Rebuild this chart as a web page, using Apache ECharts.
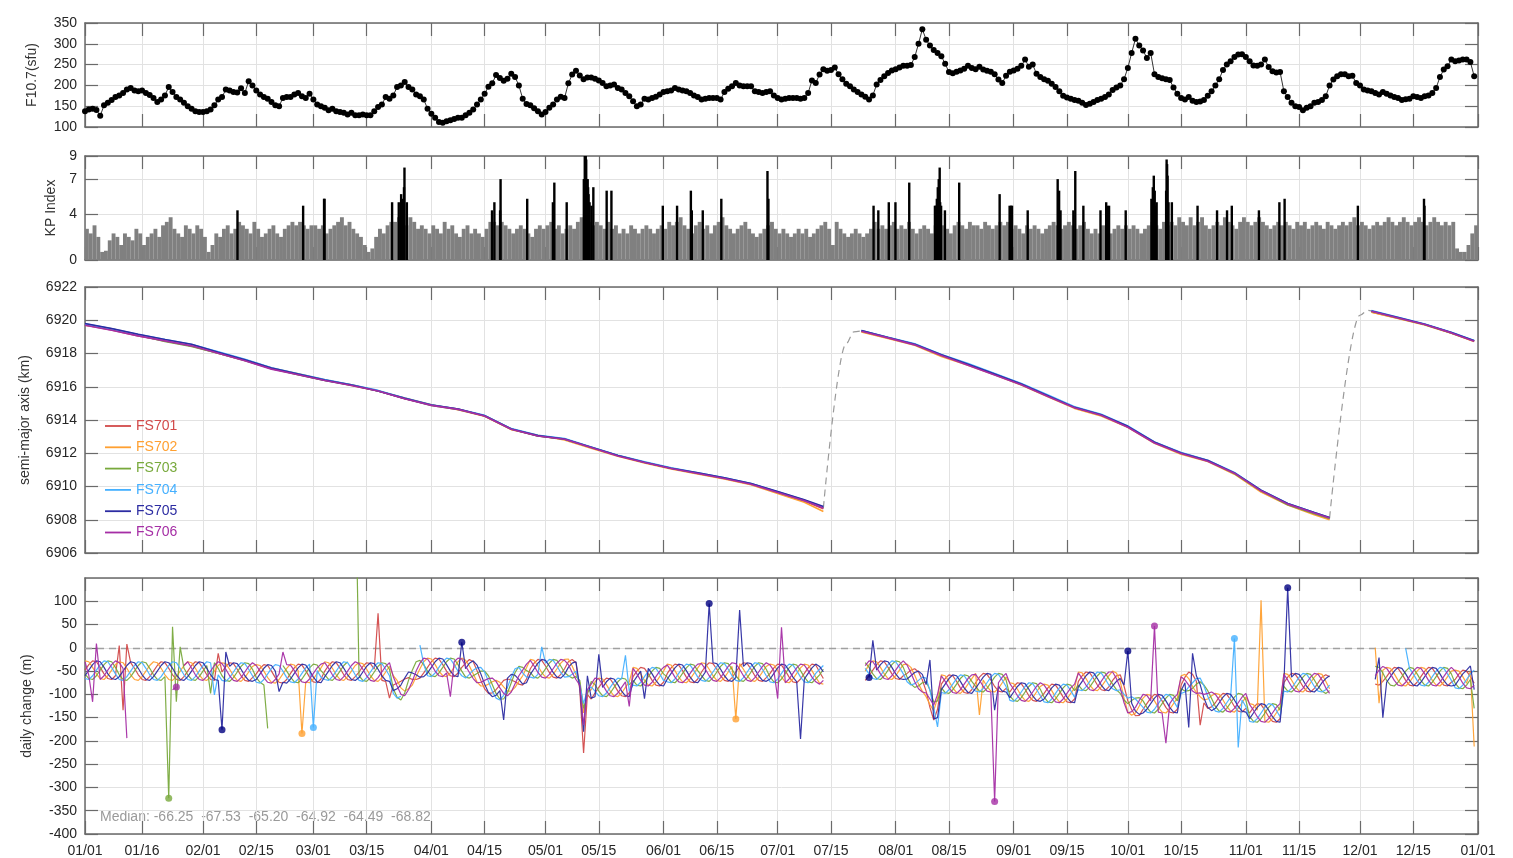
<!DOCTYPE html>
<html>
<head>
<meta charset="utf-8">
<script src="https://cdn.jsdelivr.net/npm/echarts@6/dist/echarts.min.js"></script>
<style>
html,body{margin:0;padding:0;background:#fff}
#chart{width:1513px;height:858px}
</style>
</head>
<body>
<div id="chart"></div>
<script>
const _ = null;

// ---- time axis: semi-monthly ticks over 2024 ----
const tickDates = ['2024-01-01','2024-01-16','2024-02-01','2024-02-15','2024-03-01','2024-03-15',
  '2024-04-01','2024-04-15','2024-05-01','2024-05-15','2024-06-01','2024-06-15','2024-07-01',
  '2024-07-15','2024-08-01','2024-08-15','2024-09-01','2024-09-15','2024-10-01','2024-10-15',
  '2024-11-01','2024-11-15','2024-12-01','2024-12-15','2025-01-01'];

const satNames = ['FS701','FS702','FS703','FS704','FS705','FS706'];
const satColors = ['#d24a4a','#ffa031','#78a93c','#45b0ff','#2c2ca2','#a52ea5'];
const medians = [-66.25, -67.53, -65.20, -64.92, -64.49, -68.82];

// ---- F10.7 solar flux, daily (sfu) ----
const f107 = [
 138,142,144,141,127,152,158,165,172,176,
 182,190,194,188,186,188,182,177,170,160,
 166,176,196,184,172,166,158,150,144,138,
 136,136,138,142,152,166,172,190,188,184,
 183,193,182,210,200,188,178,172,168,160,
 152,150,170,172,172,178,182,174,170,180,
 166,154,150,146,140,144,138,136,134,130,
 134,128,128,130,128,128,138,148,154,172,
 168,176,196,200,208,196,190,178,174,166,
 144,132,122,112,110,114,116,119,122,122,
 128,134,142,154,166,180,197,205,225,218,
 211,216,228,220,200,168,155,152,145,138,
 130,136,146,154,166,173,170,205,226,235,
 224,215,219,219,216,212,206,198,200,202,
 194,190,182,174,162,150,154,168,166,170,
 173,178,184,186,188,194,190,188,186,182,
 176,172,166,168,170,170,170,166,184,192,
 198,206,200,198,198,198,186,184,182,184,
 186,176,170,166,168,170,170,170,168,170,
 182,212,206,226,239,235,237,243,227,215,
 204,198,190,184,178,173,166,176,202,213,
 222,230,236,239,243,247,247,249,268,300,
 335,310,296,285,278,270,252,232,229,233,
 236,240,247,242,239,245,238,235,233,227,
 214,206,223,233,236,240,247,262,245,250,
 228,220,215,211,204,196,186,175,171,168,
 165,163,158,153,156,160,165,168,172,178,
 189,195,200,215,242,278,312,296,284,266,
 278,227,220,217,215,213,195,180,170,166,
 172,163,160,161,165,175,186,200,215,237,
 250,258,268,274,275,268,258,248,247,250,
 262,244,234,231,232,186,172,158,150,148,
 140,146,150,158,160,165,174,200,214,222,
 227,227,222,223,206,200,190,188,186,182,
 178,184,180,176,172,170,165,167,168,174,
 172,170,174,176,182,194,220,238,246,262,
 258,260,262,262,256,222
];

// ---- Kp: daily quiet-time level, by month ----
const kpJan = [2.7,2.3,3.0,2.0,0.7,0.8,1.7,2.3,2.0,1.3,2.3,2.0,1.7,2.7,2.3,1.3,2.0,2.3,2.7,2.0,3.0,3.3,3.7,2.7,2.3,2.0,3.0,2.7,2.3,3.0,2.7];
const kpFeb = [2.0,0.7,1.3,2.3,2.0,2.7,3.0,2.3,2.7,3.3,3.0,2.7,2.3,3.3,2.7,2.0,2.3,2.7,3.0,2.3,2.0,2.7,3.0,3.3,3.0,3.3,3.0,2.7,3.0];
const kpMar = [3.0,2.7,3.0,2.3,2.7,3.0,3.3,3.7,3.0,3.3,2.7,2.3,2.0,1.3,0.7,1.0,2.0,2.7,2.3,3.0,3.3,3.3,3.7,3.3,3.0,3.7,3.3,2.7,3.0,2.7,2.3];
const kpApr = [3.0,2.7,2.3,3.3,2.7,3.0,2.3,2.0,2.7,3.0,2.3,2.7,2.3,2.0,2.7,3.3,3.3,3.0,3.3,3.0,2.7,2.3,2.7,3.0,2.7,2.3,2.0,2.7,3.0,2.7];
const kpMay = [3.0,3.3,2.7,3.0,2.3,2.7,3.0,2.7,3.3,3.7,3.0,3.3,3.0,3.3,3.0,2.7,3.3,2.7,3.0,2.3,2.7,2.3,3.0,2.7,2.3,2.7,3.0,2.7,2.3,2.7,3.0];
const kpJun = [2.7,3.3,3.0,3.3,3.7,3.0,2.7,2.3,3.0,3.3,2.7,3.0,2.3,3.0,3.3,3.7,3.0,2.7,2.3,2.7,3.0,3.3,2.7,2.3,2.0,2.3,2.7,3.0,3.3,2.7];
const kpJul = [2.3,2.7,2.3,2.0,2.3,2.7,2.3,2.7,2.0,2.3,2.7,3.0,3.3,2.7,1.3,3.3,2.7,2.3,2.0,2.3,2.7,2.3,2.0,2.3,2.7,3.3,2.7,3.0,2.7,3.0,3.3];
const kpAug = [2.7,3.0,2.7,3.3,2.7,2.3,2.7,3.0,2.7,2.3,3.0,2.7,3.0,2.7,2.3,3.0,3.3,3.0,2.7,3.3,3.0,3.0,2.7,3.3,3.0,2.7,3.0,3.3,3.0,3.3,2.7];
const kpSep = [3.0,2.7,2.3,3.0,2.7,3.0,2.7,2.3,2.7,3.0,3.3,3.0,2.7,3.0,3.3,3.0,2.7,3.0,3.3,2.7,2.3,2.7,2.3,3.0,2.7,2.3,2.7,3.0,2.7,3.0];
const kpOct = [2.7,3.0,2.7,2.3,2.7,3.0,3.3,3.0,2.7,3.3,3.0,3.3,3.0,3.7,3.3,3.0,3.7,3.0,3.3,3.7,3.0,2.7,3.0,3.3,3.0,3.7,3.3,3.0,2.7,3.3,3.7];
const kpNov = [3.3,3.0,3.3,3.7,3.3,3.0,2.7,3.0,3.3,3.0,3.3,3.0,2.7,3.3,3.0,3.3,2.7,3.0,3.3,3.0,2.7,3.3,3.0,2.7,3.0,3.3,3.0,3.3,3.7,3.0];
const kpDec = [3.3,3.0,2.7,3.0,3.3,3.0,3.3,3.7,3.3,3.0,3.3,3.7,3.3,3.0,3.3,3.7,3.3,3.0,3.3,3.7,3.3,3.0,3.3,3.0,3.3,1.0,0.7,0.7,1.3,2.3,3.0];

// ---- Kp: storm-time 3-hour values ('MM-DD HH', Kp) ----
const kpStorms = [
 ['02-10 00',4.3],['02-27 06',4.7],['03-03 18',5.3],['03-03 21',5.3],['03-21 15',5.0],
 ['03-23 09',5.0],['03-24 00',5.7],['03-24 09',5.3],['03-24 18',6.3],['03-24 21',8.0],['03-25 12',5.0],
 ['04-16 21',4.3],['04-17 12',5.0],['04-19 00',4.3],['04-19 03',7.0],['04-26 03',5.3],
 ['05-02 21',5.0],['05-03 06',6.7],['05-06 12',5.0],
 ['05-11 00',7.0],['05-11 03',7.0],['05-11 06',9.0],['05-11 09',9.0],['05-11 12',9.0],['05-11 15',8.7],
 ['05-11 18',7.0],['05-11 21',7.0],['05-12 00',7.0],['05-12 03',6.3],['05-12 06',5.7],['05-12 12',5.0],
 ['05-13 00',4.7],['05-13 12',6.3],['05-17 00',6.0],['05-18 06',6.0],
 ['05-31 18',4.7],['06-04 12',4.7],['06-08 03',6.0],['06-08 09',4.3],['06-11 06',4.3],['06-16 03',5.3],
 ['06-28 06',7.7],['06-28 12',5.3],['07-26 03',4.7],['07-27 09',4.3],['07-30 03',5.0],['07-31 21',5.0],
 ['08-04 12',6.7],['08-11 06',4.7],['08-11 12',4.7],['08-11 18',5.3],['08-12 00',6.3],['08-12 06',7.0],
 ['08-12 12',8.0],['08-12 15',5.0],['08-12 21',4.7],['08-13 21',4.3],['08-17 15',6.7],['08-28 06',5.7],
 ['08-30 21',4.7],['08-31 06',4.7],['08-31 12',4.7],['09-04 15',4.3],
 ['09-12 12',7.0],['09-12 21',6.0],['09-13 06',4.3],['09-16 15',4.3],['09-17 03',7.7],['09-19 06',4.7],
 ['09-23 18',4.3],['09-25 06',5.0],['09-25 12',4.7],['09-26 00',4.7],['09-30 09',4.3],
 ['10-07 03',5.3],['10-07 12',6.3],['10-07 18',7.3],['10-08 00',6.0],['10-08 06',4.7],['10-08 12',5.0],
 ['10-11 00',6.0],['10-11 03',8.7],['10-11 06',8.3],['10-11 09',7.3],['10-11 15',5.0],['10-12 12',5.0],
 ['10-19 06',4.7],['10-24 09',4.3],['10-27 00',4.3],['10-28 06',4.7],['11-04 09',4.3],['11-09 18',5.0],
 ['11-11 03',5.3],['11-30 09',4.7],['12-17 18',5.3],['12-17 21',4.7]
];

// ---- semi-major axis (km), sampled on these days of 2024 ----
const smaDays = [0,7,14,21,28,35,42,49,56,63,70,77,84,91,98,105,112,119,126,133,
 140,147,154,161,168,175,182,189,194,199,204,211,218,225,232,239,246,253,260,267,
 274,281,288,295,302,309,316,323,327,332,338,345,352,359,365];
const smaFS701 = [6919.72,6919.42,6919.05,6918.78,6918.45,6918.02,6917.58,6917.08,6916.74,6916.40,
 6916.12,6915.76,6915.28,6914.90,6914.66,6914.24,6913.45,6913.04,6912.86,6912.33,
 6911.86,6911.44,6911.10,6910.78,6910.48,6910.14,6909.62,6909.12,6908.66,_,
 6919.32,6918.94,6918.55,6917.88,6917.36,6916.76,6916.16,6915.46,6914.74,6914.30,
 6913.58,6912.66,6912.02,6911.56,6910.80,6909.72,6908.94,6908.38,6908.06,_,
 6920.50,6920.12,6919.74,6919.24,6918.74];
const smaFS702 = [6919.70,6919.48,6919.08,6918.76,6918.50,6918.04,6917.62,6917.12,6916.78,6916.42,
 6916.08,6915.74,6915.32,6914.92,6914.62,6914.22,6913.42,6913.08,6912.80,6912.30,
 6911.82,6911.42,6911.06,6910.76,6910.46,6910.10,6909.58,6909.05,6908.50,_,
 6919.30,6918.90,6918.50,6917.82,6917.30,6916.72,6916.10,6915.40,6914.70,6914.24,
 6913.56,6912.60,6911.94,6911.50,6910.74,6909.66,6908.88,6908.30,6908.00,_,
 6920.48,6920.10,6919.72,6919.22,6918.72];
const smaFS703 = [6919.74,6919.44,6919.10,6918.72,6918.42,6918.02,6917.58,6917.10,6916.72,6916.38,
 6916.10,6915.74,6915.30,6914.88,6914.64,6914.26,6913.46,6913.04,6912.84,6912.36,
 6911.86,6911.46,6911.10,6910.80,6910.50,6910.16,6909.66,6909.16,6908.74,_,
 6919.36,6918.96,6918.54,6917.90,6917.34,6916.74,6916.14,6915.44,6914.76,6914.30,
 6913.60,6912.64,6912.00,6911.54,6910.78,6909.74,6908.90,6908.36,6908.08,_,
 6920.54,6920.14,6919.74,6919.24,6918.76];
const smaFS704 = [6919.78,6919.48,6919.14,6918.84,6918.54,6918.10,6917.66,6917.14,6916.78,6916.44,
 6916.12,6915.78,6915.32,6914.92,6914.66,6914.28,6913.48,6913.08,6912.88,6912.38,
 6911.88,6911.48,6911.12,6910.82,6910.52,6910.18,6909.68,6909.18,6908.76,_,
 6919.38,6918.98,6918.58,6917.94,6917.40,6916.80,6916.20,6915.50,6914.80,6914.34,
 6913.64,6912.68,6912.04,6911.58,6910.84,6909.78,6908.98,6908.44,6908.12,_,
 6920.58,6920.18,6919.78,6919.28,6918.78];
const smaFS705 = [6919.80,6919.50,6919.16,6918.84,6918.56,6918.08,6917.62,6917.12,6916.76,6916.40,
 6916.10,6915.74,6915.30,6914.90,6914.66,6914.26,6913.46,6913.06,6912.86,6912.36,
 6911.86,6911.46,6911.10,6910.82,6910.52,6910.18,6909.70,6909.20,6908.80,_,
 6919.38,6918.96,6918.56,6917.92,6917.36,6916.76,6916.16,6915.46,6914.76,6914.32,
 6913.62,6912.66,6912.02,6911.56,6910.82,6909.78,6908.98,6908.44,6908.14,_,
 6920.56,6920.16,6919.76,6919.26,6918.76];
const smaFS706 = [6919.70,6919.40,6919.06,6918.76,6918.46,6918.02,6917.56,6917.06,6916.72,6916.38,
 6916.08,6915.74,6915.28,6914.88,6914.64,6914.24,6913.44,6913.04,6912.84,6912.34,
 6911.84,6911.44,6911.08,6910.78,6910.48,6910.14,6909.64,6909.14,6908.70,_,
 6919.34,6918.94,6918.52,6917.88,6917.30,6916.70,6916.12,6915.42,6914.74,6914.28,
 6913.56,6912.62,6911.98,6911.52,6910.80,6909.74,6908.94,6908.40,6908.10,_,
 6920.54,6920.14,6919.74,6919.24,6918.74];

// orbit-raising manoeuvres (day, km)
const raise1 = [[194,6908.70],[200,6918.60],[202,6919.30],[204,6919.36]];
const raise2 = [[327,6908.10],[335,6920.30],[337,6920.60],[338,6920.56]];

// ---- daily change of semi-major axis (m), one value per day from 01/01 ----
const chgFS701 = [
 -48,-36,-28,-30,-42,-56,-66,-68,-60,
 5,-134,8,-32,-44,-58,-68,-70,-62,
 -50,-38,-30,-32,-44,-58,-68,-70,-62,
 -50,-38,-30,-32,-44,-58,-68,-70,-12,
 -52,-40,-32,-34,-46,-60,-70,-72,-64,
 -56,-44,-36,-38,-50,-64,-74,-76,-68,
 -55,-43,-35,-37,-49,-63,-73,-75,-67,
 -50,-38,-30,-32,-44,-58,-68,-70,-62,
 -52,-40,-32,-34,-46,74,-70,-72,-108,
 -80,-76,-72,-67,-64,-68,-68,-65,-54,
 -42,-30,-22,-24,-36,-50,-60,-62,-54,
 -42,-33,-25,-30,-49,-70,-88,-98,-97,
 -90,-80,-70,-67,-69,-73,-78,-80,-67,
 -45,-33,-25,-27,-39,-53,-63,-65,-57,
 -45,-30,-25,-32,-90,-226,-100,-110,-97,
 -85,-73,-65,-67,-79,-93,-103,-105,-97,
 -62,-50,-42,-44,-56,-70,-80,-82,-74,
 -55,-43,-35,-37,-49,-63,-73,-75,-67,
 -52,-40,-32,-34,-46,-60,-70,-72,-64,
 -52,-40,-32,-34,-46,-60,-70,-72,-64,
 -55,-43,-35,-37,-49,-63,-73,-75,-67,
 -55,-43,-35,-37,-52,-66,_,_,_,
 _,_,_,_,_,_,_,-70,-60,
 -48,-36,-28,-30,-42,-56,-66,-68,-60,
 -55,-48,-45,-52,-69,-93,-128,-155,-132,
 -78,-66,-58,-60,-72,-86,-96,-98,-90,
 -75,-63,-55,-57,-69,-83,-93,-95,-87,
 -95,-83,-75,-77,-89,-103,-113,-115,-107,
 -98,-86,-78,-80,-92,-106,-116,-118,-110,
 -72,-60,-52,-54,-66,-80,-90,-92,-84,
 -70,-60,-58,-82,-114,-133,-146,-145,-132,
 -120,-108,-100,-102,-114,-128,-138,-140,-132,
 -80,-63,-52,-57,-72,-166,-118,-130,-127,
 -118,-106,-98,-100,-112,-126,-136,-138,-130,
 -140,-128,-120,-122,-134,-148,-158,-160,-152,
 -75,-63,-55,-57,-69,-83,-93,-95,-87,
 -75,-63,-58,-62,_,_,_,_,_,
 _,_,_,_,_,_,-78,-80,-72,
 -62,-50,-42,-44,-56,-70,-80,-82,-74,
 -62,-50,-42,-44,-56,-70,-80,-82,-74,
 -68,-56,-48,-50,-62,-76
];
const chgFS702 = [
 -28,-30,-42,-56,-66,-68,-60,-48,-36,
 -30,-32,-44,-58,-68,-70,-62,-50,-38,
 -30,-32,-44,-58,-68,-70,-62,-50,-38,
 -30,-32,-44,-58,-68,-70,-62,-50,-38,
 -32,-34,-46,-60,-70,-72,-64,-52,-40,
 -36,-38,-50,-64,-74,-76,-68,-56,-44,
 -35,-37,-49,-184,-73,-75,-67,-55,-43,
 -30,-32,-44,-58,-68,-70,-62,-50,-38,
 -32,-34,-46,-60,-70,-72,-64,-52,-40,
 -60,-70,-86,-93,-88,-80,-62,-45,-30,
 -22,-24,-36,-50,-60,-62,-54,-42,-30,
 -22,-27,-39,-56,-73,-82,-82,-78,-73,
 -70,-74,-84,-93,-93,-85,-72,-60,-43,
 -25,-27,-39,-53,-63,-65,-57,-45,-33,
 -25,-24,-39,-58,-75,-140,-95,-90,-73,
 -65,-67,-79,-93,-103,-105,-97,-85,-73,
 -42,-44,-56,-70,-80,-82,-74,-62,-50,
 -35,-37,-49,-63,-73,-75,-67,-55,-43,
 -32,-34,-46,-60,-70,-72,-64,-52,-40,
 -153,-34,-46,-60,-70,-72,-64,-52,-40,
 -35,-37,-49,-63,-73,-75,-67,-55,-43,
 -35,-37,-49,-63,-76,-78,_,_,_,
 _,_,_,_,_,_,_,-50,-36,
 -28,-30,-42,-56,-66,-68,-60,-48,-36,
 -35,-42,-59,-78,-93,-105,-122,-135,-108,
 -58,-60,-72,-86,-96,-98,-90,-78,-66,
 -55,-144,-69,-83,-93,-95,-87,-75,-63,
 -75,-77,-89,-103,-113,-115,-107,-95,-83,
 -78,-80,-92,-106,-116,-118,-110,-98,-86,
 -52,-54,-66,-80,-90,-92,-84,-72,-60,
 -50,-54,-72,-108,-138,-145,-140,-125,-108,
 -100,-102,-114,-128,-138,-140,-132,-120,-108,
 -60,-57,-66,-83,-96,-105,-112,-110,-103,
 -98,-100,-112,-126,-136,-138,-130,-118,-106,
 -120,-122,-134,102,-158,-160,-152,-140,-128,
 -55,-57,-69,-83,-93,-95,-87,-75,-63,
 -55,-57,-72,-88,_,_,_,_,_,
 _,_,_,_,_,_,0,-119,-48,
 -42,-44,-56,-70,-80,-82,-74,-62,-50,
 -42,-44,-56,-70,-80,-82,-74,-62,-50,
 -48,-50,-62,-76,-50,-212
];
const chgFS703 = [
 -56,-66,-68,-60,-48,-36,-28,-30,-42,
 -58,-68,-70,-62,-50,-38,-30,-32,-44,
 -58,-68,-70,-62,-323,45,-116,2,-44,
 -58,-68,-70,-62,-50,-38,-98,-32,-44,
 -60,-70,-72,-64,-52,-40,-32,-34,-46,
 -64,-74,-80,-173,_,_,_,-38,-50,
 -63,-73,-75,-67,-55,-43,-35,-37,-49,
 -58,-68,-70,-62,-50,-38,-30,_,400,
 -60,-70,-72,-64,-52,-40,-32,-34,-46,
 -88,-106,-112,-97,-70,-48,-30,-27,-36,
 -50,-60,-62,-54,-42,-30,-22,-24,-36,
 -50,-63,-65,-60,-55,-50,-50,-60,-79,
 -98,-110,-110,-97,-75,-53,-40,-42,-49,
 -53,-63,-65,-57,-45,-33,-25,-27,-39,
 -53,-60,-65,-62,-70,-130,-100,-72,-79,
 -93,-103,-105,-97,-85,-73,-65,-67,-79,
 -70,-80,-82,-74,-62,-50,-42,-44,-56,
 -63,-73,-75,-67,-55,-43,-35,-37,-49,
 -60,-70,-72,-64,-52,-40,-32,-34,-46,
 -60,-70,-72,-64,-52,-40,-32,-34,-46,
 -63,-73,-75,-67,-55,-43,-35,-37,-49,
 -63,-73,-75,-67,-58,-46,_,_,_,
 _,_,_,_,_,_,_,-32,-42,
 -56,-66,-68,-60,-48,-36,-28,-30,-42,
 -63,-78,-85,-82,-75,-73,-90,-117,-114,
 -86,-96,-98,-90,-78,-66,-58,-60,-72,
 -83,-93,-95,-87,-75,-63,-55,-57,-69,
 -103,-113,-115,-107,-95,-83,-75,-77,-89,
 -106,-116,-118,-110,-98,-86,-78,-80,-92,
 -80,-90,-92,-84,-72,-60,-52,-54,-66,
 -78,-90,-98,-112,-120,-113,-108,-107,-114,
 -128,-138,-140,-132,-120,-108,-100,-102,-114,
 -88,-93,-92,-87,-78,-73,-80,-92,-109,
 -126,-136,-138,-130,-118,-106,-98,-100,-112,
 -148,-158,-160,-152,-140,-128,-120,-122,-134,
 -83,-93,-95,-87,-75,-63,-55,-57,-69,
 -83,-93,-98,-92,_,_,_,_,_,
 _,_,_,_,_,_,-40,-42,-54,
 -70,-80,-82,-74,-62,-50,-42,-44,-56,
 -70,-80,-82,-74,-62,-50,-42,-44,-56,
 -76,-86,-88,-80,-68,-130
];
const chgFS704 = [
 -66,-68,-60,-48,-36,-28,-30,-42,-56,
 -68,-70,-62,-50,-38,-30,-32,-44,-58,
 -68,-70,-62,-50,-38,-30,-32,-44,-58,
 -68,-70,-62,-50,-38,-30,-32,-101,-58,
 -70,-72,-64,-52,-40,-32,-34,-46,-60,
 -74,-76,-68,-56,-44,-36,-38,-50,-64,
 -73,-75,-67,-55,-43,-35,-171,-49,-63,
 -68,-70,-62,-50,-38,-30,-32,-44,-58,
 -70,-72,-64,-52,-40,-32,-34,-46,-60,
 -98,-108,-104,_,_,_,_,6,-35,
 -60,-62,-54,-42,-30,-22,-24,-36,-50,
 -60,-65,-57,-48,-43,-42,-52,-72,-93,
 -108,-112,-102,-85,-63,-45,-42,-54,-63,
 -63,-65,-57,2,-33,-25,-27,-39,-53,
 -63,-62,-57,-50,-80,-120,-90,-84,-93,
 -103,-105,-97,-85,-73,-65,-67,-16,-93,
 -80,-82,-74,-62,-50,-42,-44,-56,-70,
 -73,-75,-67,-55,-43,-35,-37,-49,-63,
 -70,-72,-64,-52,-40,-32,-34,-46,-60,
 -70,-72,-64,-52,-40,-32,-34,-46,-60,
 -73,-75,-67,-55,-43,-35,-37,-49,-63,
 -73,-75,-67,-55,-46,-38,_,_,_,
 _,_,_,_,_,_,_,-44,-56,
 -66,-68,-60,-48,-36,-28,-30,-42,-56,
 -73,-80,-77,-70,-63,-65,-92,-129,-170,
 -96,-98,-90,-78,-66,-58,-60,-72,-86,
 -93,-95,-87,-75,-63,-55,-57,-69,-83,
 -113,-115,-107,-95,-83,-75,-77,-89,-103,
 -116,-118,-110,-98,-86,-78,-80,-92,-106,
 -90,-92,-84,-72,-60,-52,-54,-66,-80,
 -88,-92,-90,-100,-108,-105,-110,-119,-128,
 -138,-140,-132,-120,-108,-100,-102,-114,-128,
 -98,-95,-84,-75,-66,-65,-82,-104,-123,
 -136,-138,-130,-118,-106,20,-214,-112,-126,
 -158,-160,-152,-140,-128,-120,-122,-134,-148,
 -93,-95,-87,-75,-63,-55,-57,-69,-83,
 -93,-95,-90,-80,_,_,_,_,_,
 _,_,_,_,_,_,_,_,_,
 _,_,_,_,_,-1,-44,-56,-70,
 -80,-82,-74,-62,-50,-42,-44,-56,-70,
 -86,-88,-80,-68,-56,-48
];
const chgFS705 = [
 -60,-48,-36,-28,-30,-42,-56,-66,-68,
 -62,-50,-38,-30,-32,-44,-58,-68,-70,
 -62,-50,-38,-30,-32,-44,-58,-68,-70,
 -62,-50,-38,-30,-32,-44,-58,-68,-70,
 -176,-9,-40,-32,-34,-46,-60,-70,-72,
 -68,-56,-44,-36,-38,-50,-94,-74,-76,
 -67,-55,-43,-35,-37,-49,-63,-73,-75,
 -62,-50,-38,-30,-32,-44,-58,-68,-70,
 -64,-52,-40,-32,-34,-46,-60,-70,-72,
 -92,-88,-80,-65,-52,-54,-58,-63,-62,
 -54,-42,-30,-22,-24,-36,-50,-60,-62,
 12,-45,-33,-28,-37,-56,-78,-96,-105,
 -102,-92,-155,-65,-57,-59,-68,-78,-75,
 -57,-45,-33,-25,-27,-39,-53,-63,-65,
 -57,-42,-33,-30,-85,-180,-60,-108,-105,
 -14,-85,-73,-65,-67,-79,-93,-103,-105,
 -74,-62,-50,-109,-44,-56,-70,-80,-82,
 -67,-55,-43,-35,-37,-49,-63,-73,-75,
 -64,-52,95,-32,-34,-46,-60,-70,-72,
 -64,81,-40,-32,-34,-46,-60,-70,-72,
 -67,-55,-43,-35,-37,-49,-63,-73,-196,
 -67,-55,-43,-35,-40,-52,_,_,_,
 _,_,_,_,_,_,_,_,-64,
 16,-48,-36,-28,-30,-42,-56,-66,-68,
 -67,-60,-53,-50,-57,-79,-26,-153,-150,
 -90,-78,-66,-58,-60,-72,-86,-96,-98,
 -87,-75,-63,-55,-57,-134,-83,-93,-95,
 -107,-95,-83,-75,-77,-89,-103,-113,-115,
 -110,-98,-86,-78,-80,-92,-106,-116,-118,
 -84,-72,-60,-52,-54,-66,-80,-90,-92,
 -82,-72,-66,-80,-7,-119,-136,-143,-140,
 -132,-120,-108,-100,-102,-114,-128,-138,-140,
 -92,-75,-171,-12,-60,-79,-108,-128,-135,
 -130,-118,-106,-98,-100,-112,-126,-136,-138,
 -152,-140,-128,-120,-122,-134,-148,-158,-160,
 -76,129,-63,-55,-57,-69,-83,-93,-95,
 -87,-75,-66,-60,_,_,_,_,_,
 _,_,_,_,_,_,-68,-21,-150,
 -74,-62,-50,-42,-44,-56,-70,-80,-82,
 -74,-62,-50,-42,-44,-56,-70,-80,-82,
 -80,-68,-56,-48,-39,-90
];
const chgFS706 = [
 -30,-59,-116,9,-68,-60,-48,-36,-28,
 -32,-44,-194,_,_,_,_,_,_,
 _,_,_,_,_,-90,-84,_,-38,
 -30,-44,-58,-68,-70,-62,-50,-38,-30,
 -34,-46,-60,-70,-72,-64,-52,-40,-32,
 -38,-50,-64,-74,-76,-68,-56,-9,-36,
 -37,-49,-63,-73,-75,-67,-55,-43,-35,
 -32,-44,-58,-68,-70,-62,-50,-38,-30,
 -34,-46,-60,-70,-72,-64,-52,-40,-32,
 -62,-82,-100,-103,-90,-72,-50,-33,-22,
 -24,-36,-50,-60,-62,-54,-105,-30,-22,
 -24,-39,-53,-66,-75,-74,-70,-66,-65,
 -72,-86,-98,-103,-95,-77,-60,-48,-35,
 -27,-39,-53,-63,-65,-57,-45,-33,-25,
 -27,-36,-53,-68,-80,-166,-90,-78,-65,
 -67,-79,-93,-103,-105,-97,-85,-73,-126,
 -44,-56,-70,-80,-82,-74,-62,-50,-42,
 -37,-49,-63,-73,-75,-67,-55,-43,-35,
 -34,-46,-60,-70,-72,-64,-52,-40,-32,
 -34,-46,-60,-70,-72,-64,-52,-40,-32,
 -37,-49,-109,44,-75,-67,-55,-43,-35,
 -37,-49,-63,-73,-78,-70,_,_,_,
 _,_,_,_,_,_,_,-38,-28,
 -30,-42,-56,-66,-68,-60,-48,-36,-28,
 -37,-54,-73,-88,-95,-97,-110,-123,-100,
 -60,-72,-86,-96,-98,-90,-78,-66,-58,
 -57,-69,-83,-93,-95,-330,-75,-63,-55,
 -77,-89,-103,-113,-115,-107,-95,-83,-75,
 -80,-92,-106,-116,-118,-110,-98,-86,-78,
 -54,-66,-80,-90,-92,-84,-72,-60,-52,
 -52,-66,-86,-118,-140,-137,-128,-113,-100,
 -102,-114,47,-138,-140,-205,-120,-108,-100,
 -62,-69,-80,-93,-98,-97,-100,-98,-95,
 -100,-112,-126,-136,-138,-130,-118,-106,-98,
 -122,-134,-148,-158,-160,-152,-140,-128,-120,
 -57,-69,-83,-93,-95,-87,-75,-63,-55,
 -57,-69,-86,-98,_,_,_,_,_,
 _,_,_,_,_,_,-60,-48,-40,
 -44,-56,-70,-80,-82,-74,-62,-50,-42,
 -44,-56,-70,-80,-82,-74,-62,-50,-42,
 -50,-62,-76,-86,-88,-80
];
// highlighted daily-change points: [satellite index, day]
const chgMarked = [[2,22],[5,24],[4,36],[1,57],[3,60],[4,99],[4,164],[1,171],
 [4,206],[5,239],[4,274],[5,281],[3,302],[4,316]];

// ---------------------------------------------------------------
const DAY0 = Date.UTC(2024, 0, 1);
const dayOf = s => (Date.parse(s + 'T00:00:00Z') - DAY0) / 86400000;
const tickDays = tickDates.map(dayOf);
const tickLabels = tickDates.map(s => s.slice(5).replace('-', '/'));
const X_MAX = tickDays[tickDays.length - 1];

const kpDaily = [].concat(kpJan, kpFeb, kpMar, kpApr, kpMay, kpJun, kpJul, kpAug, kpSep, kpOct, kpNov, kpDec);
const smaSets = [smaFS701, smaFS702, smaFS703, smaFS704, smaFS705, smaFS706];
const chgSets = [chgFS701, chgFS702, chgFS703, chgFS704, chgFS705, chgFS706];

const FRAME = '#6a6a6a', GRIDC = '#e2e2e2', TXT = '#262626';
const FONT = '"Liberation Sans", Arial, Helvetica, sans-serif';

const grids = [
  {left: 85, top: 23, width: 1393, height: 104},
  {left: 85, top: 156, width: 1393, height: 104},
  {left: 85, top: 287, width: 1393, height: 266},
  {left: 85, top: 578, width: 1393, height: 256}
].map(g => Object.assign({containLabel: false, outerBoundsMode: 'none'}, g));

function xPair(i) {
  const tick = {show: true, inside: true, length: 13, customValues: tickDays,
                lineStyle: {color: FRAME, width: 1.2}};
  const line = {show: true, onZero: false, lineStyle: {color: FRAME, width: 1.5}};
  return [
    {type: 'value', gridIndex: i, min: 0, max: X_MAX, position: 'bottom',
     axisLine: line, axisTick: tick,
     axisLabel: {show: i === 3, customValues: tickDays, color: TXT, fontSize: 14,
                 fontFamily: FONT, margin: 10,
                 formatter: v => { const k = tickDays.indexOf(v); return k < 0 ? '' : tickLabels[k]; }},
     splitLine: {show: true, lineStyle: {color: GRIDC, width: 1}}},
    {type: 'value', gridIndex: i, min: 0, max: X_MAX, position: 'top',
     axisLine: line, axisTick: tick, axisLabel: {show: false}, splitLine: {show: false}}
  ];
}

function yPair(i, o) {
  const tick = {show: true, inside: true, length: 13, lineStyle: {color: FRAME, width: 1.2}};
  const label = {show: true, color: TXT, fontSize: 14, fontFamily: FONT, margin: 8,
                 showMaxLabel: !o.hideMax, formatter: v => String(v)};
  if (o.ticks) { tick.customValues = o.ticks; label.customValues = o.ticks; }
  const line = {show: true, onZero: false, lineStyle: {color: FRAME, width: 1.5}};
  const common = {type: 'value', gridIndex: i, min: o.min, max: o.max};
  if (o.interval) common.interval = o.interval;
  return [
    Object.assign({}, common, {position: 'left', axisLine: line, axisTick: tick, axisLabel: label,
      name: o.name, nameLocation: 'middle', nameGap: o.nameGap,
      nameTextStyle: {color: '#333', fontSize: 14, fontFamily: FONT},
      splitLine: {show: true, lineStyle: {color: GRIDC, width: 1}}}),
    Object.assign({}, common, {position: 'right', axisLine: line, axisTick: tick,
      axisLabel: {show: false}, splitLine: {show: false}})
  ];
}

const series = [];

// F10.7 dots joined by a thin line
series.push({
  type: 'line', xAxisIndex: 0, yAxisIndex: 0,
  data: f107.map((v, d) => [d, v]),
  symbol: 'circle', symbolSize: 6, showSymbol: true,
  itemStyle: {color: '#000'}, lineStyle: {color: '#000', width: 0.8}, z: 3
});

// Kp: quiet-time level in grey, storm intervals in black
series.push({
  type: 'bar', xAxisIndex: 2, yAxisIndex: 2,
  data: kpDaily.map((v, d) => [d + 0.5, v]),
  barWidth: 3.9, itemStyle: {color: '#808080'}
});
series.push({
  type: 'bar', xAxisIndex: 3, yAxisIndex: 2,
  data: kpStorms.map(([t, v]) => [dayOf('2024-' + t.slice(0, 5)) + (parseInt(t.slice(6), 10) + 1.5) / 24, v]),
  barWidth: 2.4, itemStyle: {color: '#000'}, z: 3
});

// semi-major axis
smaSets.forEach((arr, k) => {
  series.push({
    type: 'line', name: satNames[k], xAxisIndex: 4, yAxisIndex: 4,
    data: smaDays.map((d, i) => [d, arr[i]]),
    showSymbol: false, symbol: 'none', connectNulls: false,
    lineStyle: {color: satColors[k], width: 1.6}, itemStyle: {color: satColors[k]}, z: 3
  });
});
[raise1, raise2].forEach(r => {
  series.push({
    type: 'line', xAxisIndex: 4, yAxisIndex: 4, data: r,
    smooth: 0.35, smoothMonotone: 'x', showSymbol: false, symbol: 'none',
    lineStyle: {color: '#9a9a9a', width: 1.2, type: [7, 5]}, z: 2
  });
});

// daily change
chgSets.forEach((arr, k) => {
  const s = {
    type: 'line', name: satNames[k], xAxisIndex: 6, yAxisIndex: 6,
    data: arr.map((v, d) => [d, v]),
    showSymbol: false, symbol: 'none', connectNulls: false,
    lineStyle: {color: satColors[k], width: 1.2, opacity: 0.95}, itemStyle: {color: satColors[k]}, z: 3
  };
  if (k === 0) {
    s.markLine = {silent: true, symbol: 'none', animation: false, label: {show: false},
      lineStyle: {color: '#a0a0a0', width: 1.3, type: [7, 5]}, data: [{yAxis: 0}], z: 2};
  }
  series.push(s);
});
series.push({
  type: 'scatter', xAxisIndex: 6, yAxisIndex: 6, symbolSize: 7, z: 5,
  data: chgMarked.map(([k, d]) => ({value: [d, chgSets[k][d]],
    itemStyle: {color: k === 4 ? '#000080' : satColors[k]}}))
});

const option = {
  animation: false,
  backgroundColor: '#fff',
  textStyle: {fontFamily: FONT},
  grid: grids,
  xAxis: [].concat(xPair(0), xPair(1), xPair(2), xPair(3)),
  yAxis: [].concat(
    yPair(0, {min: 100, max: 350, interval: 50, name: 'F10.7(sfu)', nameGap: 46}),
    yPair(1, {min: 0, max: 9, ticks: [0, 4, 7, 9], name: 'KP Index', nameGap: 26}),
    yPair(2, {min: 6906, max: 6922, interval: 2, name: 'semi-major axis (km)', nameGap: 53}),
    yPair(3, {min: -400, max: 150, interval: 50, hideMax: true, name: 'daily change (m)', nameGap: 51})
  ),
  legend: {
    orient: 'vertical', left: 100, top: 414, itemWidth: 26, itemHeight: 14, itemGap: 7.3,
    icon: 'path://M0,0H26V1.8H0Z',
    data: satNames.map((n, k) => ({name: n, textStyle: {color: satColors[k], fontSize: 14, fontFamily: FONT}})),
    selectedMode: false
  },
  graphic: [{
    type: 'text', left: 100, top: 810, silent: true,
    style: {text: 'Median: ' + medians.map(v => v.toFixed(2)).join('  '),
            fill: '#9a9a9a', fontSize: 14, fontFamily: FONT}
  }],
  series: series
};

const chart = echarts.init(document.getElementById('chart'), null, {renderer: 'canvas'});
chart.setOption(option);
</script>
</body>
</html>
